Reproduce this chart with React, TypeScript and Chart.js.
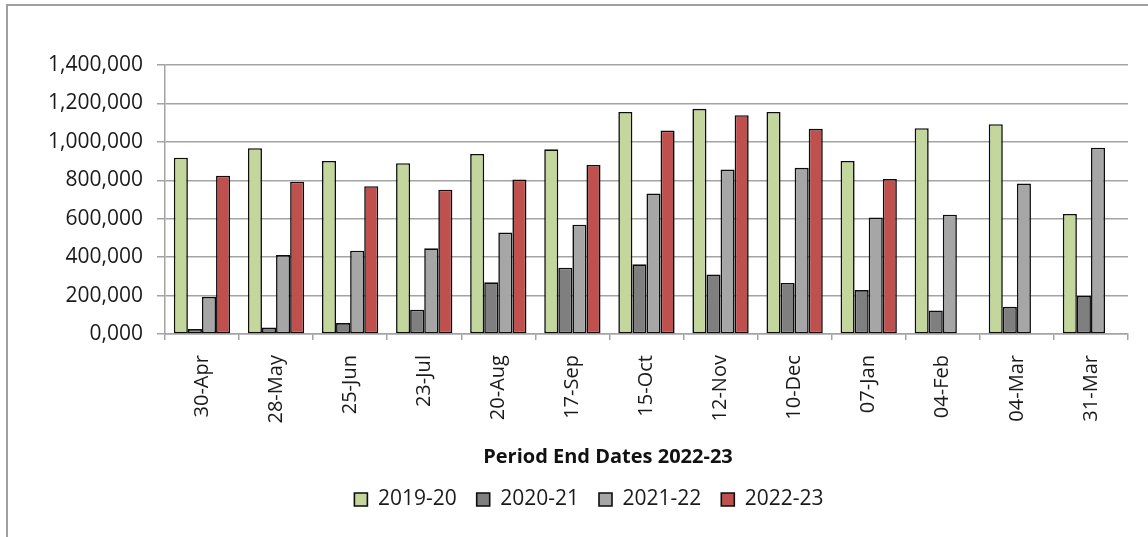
import React, { useEffect, useRef } from 'react';
import { Chart, registerables } from 'chart.js';

Chart.register(...registerables);

const periodLabels = ['30-Apr', '28-May', '25-Jun', '23-Jul', '20-Aug', '17-Sep', '15-Oct', '12-Nov', '10-Dec', '07-Jan', '04-Feb', '04-Mar', '31-Mar'];
const seriesNames = ['2019-20', '2020-21', '2021-22', '2022-23'];
const values201920 = [918000, 967000, 901000, 889000, 937000, 961000, 1156000, 1172000, 1156000, 901000, 1071000, 1092000, 625000];
const values202021 = [26000, 34000, 57000, 127000, 269000, 345000, 363000, 310000, 266000, 229000, 123000, 142000, 199000];
const values202122 = [194000, 411000, 434000, 446000, 528000, 569000, 732000, 856000, 865000, 607000, 621000, 783000, 970000];
const values202223 = [824000, 793000, 769000, 751000, 804000, 880000, 1059000, 1139000, 1068000, 807000, null, null, null];
const yMin = 0;
const yMax = 1400000;
const yStep = 200000;
const xAxisTitle = 'Period End Dates 2022-23';

const FONT = "'Open Sans', 'Noto Sans', sans-serif";
const GRID = '#a3a3a3';

const placeBoxes = {
  id: 'placeBoxes',
  afterLayout(chart: any) {
    const t = chart.titleBlock;
    if (t) {
      const w = t.right - t.left;
      t.left = 608 - w / 2;
      t.right = t.left + w;
    }
    const lg = chart.legend;
    if (lg) {
      const w = lg.right - lg.left;
      lg.left = 589 - w / 2;
      lg.right = lg.left + w;
    }
  },
};

export default function App() {
  const ref = useRef<HTMLCanvasElement | null>(null);

  useEffect(() => {
    if (!ref.current) return;
    const seriesValues = [values201920, values202021, values202122, values202223];
    const colors = ['#c3d69b', '#7f7f7f', '#a6a6a6', '#c0504d'];
    const chart = new Chart(ref.current, {
      type: 'bar',
      data: {
        labels: periodLabels,
        datasets: seriesNames.map((name, i) => ({
          label: name,
          data: seriesValues[i],
          backgroundColor: colors[i],
          borderColor: '#0d0d0d',
          borderWidth: 1.6,
          borderSkipped: false,
          categoryPercentage: 0.76,
          barPercentage: 1.0,
        })),
      },
      options: {
        animation: false,
        responsive: false,
        devicePixelRatio: 1,
        layout: { padding: { left: 34, right: 20, top: 65, bottom: 17 } },
        scales: {
          x: {
            grid: {
              offset: true,
              drawOnChartArea: false,
              drawTicks: true,
              tickLength: 6,
              color: GRID,
              lineWidth: 1.5,
            },
            border: { display: true, color: GRID, width: 1.5 },
            ticks: {
              minRotation: 90,
              maxRotation: 90,
              padding: 15,
              color: '#1a1a1a',
              font: { family: FONT, size: 20 },
            },
          },
          y: {
            min: yMin,
            max: yMax,
            grid: {
              color: GRID,
              lineWidth: 1.5,
              tickLength: 8,
              drawTicks: true,
            },
            border: { display: true, color: GRID, width: 1.5 },
            ticks: {
              stepSize: yStep,
              padding: 14,
              color: '#1a1a1a',
              font: { family: FONT, size: 21 },
              callback: (v: any) => (Number(v) === 0 ? '0,000' : Number(v).toLocaleString('en-US')),
            },
          },
        },
        plugins: {
          legend: {
            position: 'bottom',
            labels: {
              boxWidth: 13,
              boxHeight: 13,
              padding: 20,
              color: '#1a1a1a',
              font: { family: FONT, size: 21 },
            },
          },
          title: {
            display: true,
            text: xAxisTitle,
            position: 'bottom',
            weight: 500,
            color: '#111111',
            padding: { top: 6.5, bottom: 0 },
            font: { family: FONT, size: 20, weight: 'bold' },
          },
          tooltip: { enabled: false },
        },
      },
      plugins: [placeBoxes],
    } as any);
    return () => chart.destroy();
  }, []);

  return (
    <div style={{ position: 'fixed', inset: 0, overflow: 'hidden', background: '#ffffff' }}>
      <div
        style={{
          position: 'absolute',
          left: 6,
          top: 4,
          width: 1400,
          height: 800,
          borderLeft: '2px solid #a0a0a0',
          borderTop: '2px solid #a0a0a0',
        }}
      />
      <canvas
        ref={ref}
        width={1148}
        height={537}
        style={{ position: 'absolute', left: 0, top: 0, width: 1148, height: 537 }}
      />
    </div>
  );
}
